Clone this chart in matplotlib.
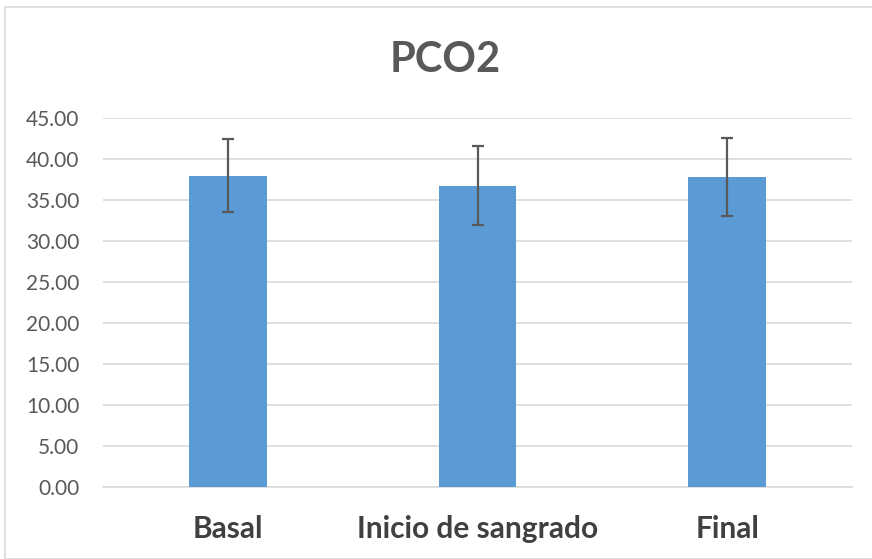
import matplotlib
matplotlib.use("Agg")
import matplotlib.pyplot as plt
from matplotlib.patches import Rectangle

categories = ["Basal", "Inicio de sangrado", "Final"]
means = [37.93, 36.74, 37.77]
errors = [4.45, 4.8, 4.73]
yticks = [0, 5, 10, 15, 20, 25, 30, 35, 40, 45]

plt.rcParams['font.family'] = ['Lato', 'DejaVu Sans']

fig = plt.figure(figsize=(8.72, 5.59), dpi=100)
W, H = 872, 559
ax = fig.add_axes([103 / W, 1 - 487 / H, (852 - 103) / W, (487 - 118) / H])

x = list(range(len(categories)))
ax.bar(x, means, width=0.31, color="#5B9BD5", zorder=3)
ax.errorbar(x, means, yerr=errors, fmt="none", ecolor="#595959",
            elinewidth=1.6, capsize=4.5, capthick=1.6, zorder=4)

ax.set_xlim(-0.5, len(categories) - 0.5)
ax.set_ylim(0, 45)
ax.set_yticks(yticks)
ax.set_yticklabels([f"{v:.2f}" for v in yticks], color="#595959", fontsize=15)
ax.set_xticks(x)
ax.set_xticklabels(categories, fontsize=21.5, fontweight="bold", color="#404040")
ax.tick_params(axis="y", length=0, pad=17)
ax.tick_params(axis="x", length=0, pad=20)
ax.grid(axis="y", color="#D9D9D9", linewidth=1.2, zorder=0)
for s in ["top", "right", "left"]:
    ax.spines[s].set_visible(False)
ax.spines["bottom"].set_color("#D9D9D9")
ax.spines["bottom"].set_linewidth(1.2)

fig.text(445 / W, 1 - 60 / H, "PCO2", ha="center", va="center",
         fontsize=30, fontweight="bold", color="#595959")

fig.patches.append(Rectangle((5 / W, 0.5 / H), (W + 10) / W, (H - 7) / H,
                             transform=fig.transFigure, fill=False,
                             edgecolor="#D9D9D9", linewidth=1.2))

fig.savefig("out.png", dpi=100)
